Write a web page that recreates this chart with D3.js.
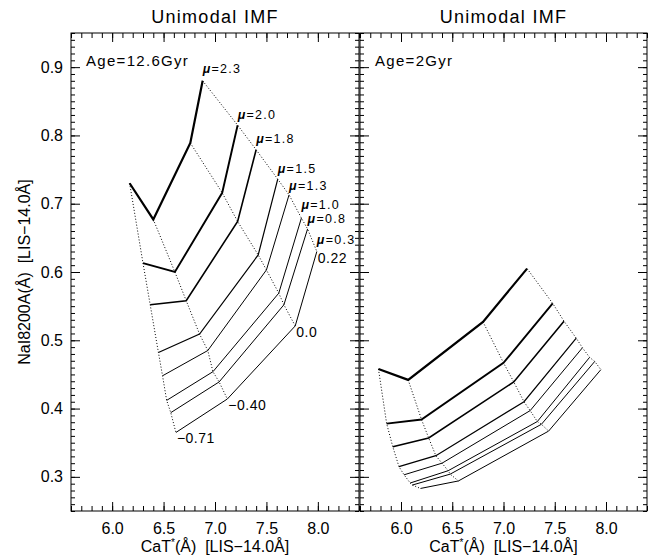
<!DOCTYPE html>
<html>
<head>
<meta charset="utf-8">
<script src="https://cdn.jsdelivr.net/npm/d3@7"></script>
<style>
  body { margin: 0; background: #fff; }
  svg { display: block; font-family: "Liberation Sans", Arial, sans-serif; }
  svg text { white-space: pre; }
  .axis path.domain { display: none; }
  .axis line { stroke: #000; stroke-width: 1; }
  .axis text { font-size: 16px; fill: #000; font-family: "Liberation Sans", Arial, sans-serif; }
</style>
</head>
<body>
<svg></svg>
<script>
let width = 654, height = 560;

// IMF slopes (one solid line each) and metallicities (one dotted line each)
const mus = [2.3, 2.0, 1.8, 1.5, 1.3, 1.0, 0.8, 0.3];
const muLabels = ["2.3", "2.0", "1.8", "1.5", "1.3", "1.0", "0.8", "0.3"];
const metals = [-0.71, -0.40, 0.0, 0.22];
const metalLabels = ["\u22120.71", "\u22120.40", "0.0", "0.22"];

// Age = 12.6 Gyr, rows = mu, columns = metallicity
const oldCaT = [
  [6.17, 6.40, 6.76, 6.88],
  [6.30, 6.61, 7.07, 7.22],
  [6.37, 6.72, 7.22, 7.40],
  [6.45, 6.85, 7.42, 7.61],
  [6.49, 6.93, 7.50, 7.72],
  [6.53, 6.98, 7.62, 7.84],
  [6.57, 7.04, 7.67, 7.90],
  [6.62, 7.12, 7.78, 7.99]
];
const oldNaI = [
  [0.730, 0.677, 0.789, 0.880],
  [0.613, 0.600, 0.716, 0.815],
  [0.552, 0.558, 0.674, 0.779],
  [0.482, 0.509, 0.625, 0.736],
  [0.448, 0.485, 0.603, 0.713],
  [0.412, 0.454, 0.569, 0.679],
  [0.394, 0.439, 0.552, 0.663],
  [0.365, 0.414, 0.521, 0.630]
];

// Age = 2 Gyr
const youngCaT = [
  [5.78, 6.07, 6.80, 7.23],
  [5.86, 6.20, 7.00, 7.48],
  [5.92, 6.27, 7.10, 7.59],
  [5.98, 6.34, 7.20, 7.71],
  [6.03, 6.40, 7.26, 7.77],
  [6.09, 6.46, 7.33, 7.84],
  [6.11, 6.48, 7.37, 7.89],
  [6.19, 6.56, 7.44, 7.95]
];
const youngNaI = [
  [0.458, 0.442, 0.527, 0.605],
  [0.378, 0.384, 0.467, 0.554],
  [0.344, 0.357, 0.439, 0.528],
  [0.315, 0.331, 0.410, 0.503],
  [0.303, 0.320, 0.397, 0.489],
  [0.291, 0.309, 0.381, 0.475],
  [0.288, 0.304, 0.377, 0.469],
  [0.283, 0.294, 0.367, 0.457]
];

const xMajor = [6.0, 6.5, 7.0, 7.5, 8.0];
const yMajor = [0.3, 0.4, 0.5, 0.6, 0.7, 0.8, 0.9];
const lineWidths = [2.2, 1.9, 1.6, 1.2, 1, 1, 1, 1];
// vertical nudge of each mu label above its line end
const muLabelDy = [-8, -6, -7, -6, -5, -9, -6, -8];

let svg = d3.select("svg")
  .attr("width", width)
  .attr("height", height);

const plotTop = 33, plotBottom = 511;
const panels = [
  { left: 71, right: 359, age: "Age=12.6Gyr", cat: oldCaT, nai: oldNaI, labels: true, yLabels: true },
  { left: 360, right: 647, age: "Age=2Gyr", cat: youngCaT, nai: youngNaI, labels: false, yLabels: false }
];

panels.forEach(p => {
  let x = d3.scaleLinear().domain([5.6, 8.4]).range([p.left, p.right]);
  let y = d3.scaleLinear().domain([0.25, 0.95]).range([plotBottom, plotTop]);
  let g = svg.append("g");

  // minor ticks
  let xMinor = x.ticks(28), yMinor = y.ticks(70);
  g.append("g").attr("class", "axis").attr("transform", `translate(0,${plotBottom})`)
    .call(d3.axisBottom(x).tickValues(xMinor).tickSize(-5).tickFormat(""));
  g.append("g").attr("class", "axis").attr("transform", `translate(0,${plotTop})`)
    .call(d3.axisTop(x).tickValues(xMinor).tickSize(-5).tickFormat(""));
  g.append("g").attr("class", "axis").attr("transform", `translate(${p.left},0)`)
    .call(d3.axisLeft(y).tickValues(yMinor).tickSize(-4).tickFormat(""));
  g.append("g").attr("class", "axis").attr("transform", `translate(${p.right},0)`)
    .call(d3.axisRight(y).tickValues(yMinor).tickSize(-4).tickFormat(""));

  // major ticks
  g.append("g").attr("class", "axis").attr("transform", `translate(0,${plotBottom})`)
    .call(d3.axisBottom(x).tickValues(xMajor).tickSize(-9).tickPadding(12).tickFormat(d3.format(".1f")));
  g.append("g").attr("class", "axis").attr("transform", `translate(0,${plotTop})`)
    .call(d3.axisTop(x).tickValues(xMajor).tickSize(-9).tickFormat(""));
  g.append("g").attr("class", "axis").attr("transform", `translate(${p.left},0)`)
    .call(d3.axisLeft(y).tickValues(yMajor).tickSize(-9).tickPadding(8)
      .tickFormat(p.yLabels ? d3.format(".1f") : ""));
  g.append("g").attr("class", "axis").attr("transform", `translate(${p.right},0)`)
    .call(d3.axisRight(y).tickValues(yMajor).tickSize(-9).tickFormat(""));

  g.append("rect")
    .attr("x", p.left).attr("y", plotTop)
    .attr("width", p.right - p.left).attr("height", plotBottom - plotTop)
    .attr("fill", "none").attr("stroke", "#000").attr("stroke-width", 1);

  let line = d3.line().x(d => x(d[0])).y(d => y(d[1]));

  // dotted: constant metallicity
  metals.forEach((m, j) => {
    let pts = mus.map((mu, i) => [p.cat[i][j], p.nai[i][j]]);
    g.append("path").attr("d", line(pts))
      .attr("fill", "none").attr("stroke", "#000")
      .attr("stroke-width", 1).attr("stroke-dasharray", "1,2");
  });

  // solid: constant mu
  mus.forEach((mu, i) => {
    let pts = metals.map((m, j) => [p.cat[i][j], p.nai[i][j]]);
    g.append("path").attr("d", line(pts))
      .attr("fill", "none").attr("stroke", "#000")
      .attr("stroke-width", lineWidths[i]).attr("stroke-linejoin", "miter");
  });

  // titles
  g.append("text")
    .attr("x", (p.left + p.right) / 2).attr("y", 23)
    .attr("text-anchor", "middle")
    .style("font-size", "18px").style("letter-spacing", "1.3px")
    .text("Unimodal IMF");

  g.append("text")
    .attr("x", p.left + 15).attr("y", 66)
    .style("font-size", "15px").style("letter-spacing", "1.3px")
    .text(p.age);

  // x axis title
  let xt = g.append("text")
    .attr("x", (p.left + p.right) / 2).attr("y", 552)
    .attr("text-anchor", "middle")
    .style("font-size", "16px");
  xt.append("tspan").text("CaT");
  xt.append("tspan").attr("dy", -6).style("font-size", "10px").text("*");
  xt.append("tspan").attr("dy", 6).text("(\u00c5)  [LIS\u221214.0\u00c5]");

  if (p.labels) {
    // mu labels at the high-metallicity end
    mus.forEach((mu, i) => {
      let t = g.append("text")
        .attr("x", x(p.cat[i][3]))
        .attr("y", y(p.nai[i][3]) + muLabelDy[i])
        .style("font-size", "12.5px").style("letter-spacing", "1.3px");
      t.append("tspan").style("font-style", "italic").style("font-weight", "bold").text("\u03bc");
      t.append("tspan").text("=" + muLabels[i]);
    });
    // metallicity labels at the low-mu end
    metals.forEach((m, j) => {
      g.append("text")
        .attr("x", x(p.cat[7][j]) + 1)
        .attr("y", y(p.nai[7][j]) + 11)
        .style("font-size", "14px").style("letter-spacing", "0.5px")
        .text(metalLabels[j]);
    });
  }
});

// y axis title
svg.append("text")
  .attr("transform", `translate(30,${(plotTop + plotBottom) / 2}) rotate(-90)`)
  .attr("text-anchor", "middle")
  .style("font-size", "16px")
  .text("NaI8200A(\u00c5)  [LIS\u221214.0\u00c5]");
</script>
</body>
</html>
